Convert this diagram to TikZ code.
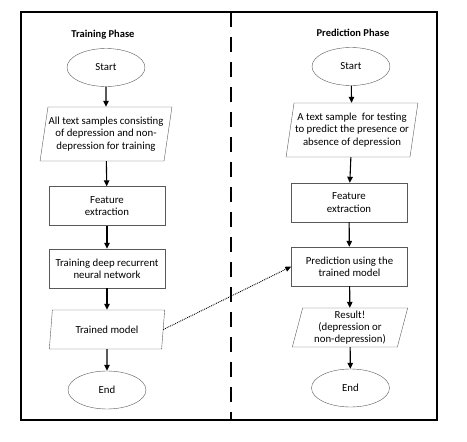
\documentclass[tikz,border=0pt]{standalone}
\usepackage{fontspec}
\setmainfont{Carlito}
\usetikzlibrary{positioning, arrows.meta, shapes.geometric}

\tikzset{
  startend/.style={ellipse, draw=gray!70!black, minimum width=78pt, minimum height=38pt, inner sep=0pt},
  procbox/.style={rectangle, draw=gray!70!black, minimum width=116pt, minimum height=39pt, align=center, inner sep=0pt},
  iobox/.style={trapezium, trapezium left angle=77, trapezium right angle=103, trapezium stretches=true, draw=gray!70!black, align=center, inner sep=0pt},
  flow/.style={-{Triangle[length=6pt,width=5.5pt]}, line width=1.1pt},
}

\begin{document}
\begin{tikzpicture}[x=1pt, y=-1pt, font=\fontsize{10.8}{12.3}\selectfont]
    \useasboundingbox (0,0) rectangle (467,442);

    % Frame and divider
    \draw[line width=1.5pt] (21,12) rectangle (437,420);
    \draw[line width=1.3pt, dash pattern=on 15pt off 10pt] (231,12) -- (231,420);

    % Training phase
    \node[font=\bfseries\fontsize{10.5}{12}\selectfont] (trainTitle) at (103,35) {Training Phase};
    \node[startend] (tStart) at (106,67.5) {Start};
    \node[iobox, minimum width=132pt, minimum height=54pt] (tData) at (106,134) {All text samples consisting\\of depression and non-\\depression for training};
    \node[procbox] (tFeat) at (107,206) {Feature\\extraction};
    \node[procbox] (tTrain) at (107,268.5) {Training deep recurrent\\neural network};
    \node[iobox, minimum width=116pt, minimum height=39pt] (tModel) at (107,329.5) {Trained model};
    \node[startend] (tEnd) at (107,390) {End};

    \draw[flow] (tStart) -- (tData);
    \draw[flow] (tData) -- (tFeat);
    \draw[flow] (tFeat) -- (tTrain);
    \draw[flow] (tTrain) -- (tModel);
    \draw[flow] (tModel) -- (tEnd);

    % Prediction phase
    \node[font=\bfseries\fontsize{10.5}{12}\selectfont] (predTitle) at (353,33) {Prediction Phase};
    \node[startend] (pStart) at (351,66.5) {Start};
    \node[iobox, minimum width=132pt, minimum height=54pt] (pData) at (352,130) {A text sample\ \ for testing\\to predict the presence or\\absence of depression};
    \node[procbox] (pFeat) at (349,202.5) {Feature\\extraction};
    \node[procbox] (pPred) at (349.5,266.5) {Prediction using the\\trained model};
    \node[iobox, minimum width=116pt, minimum height=39pt] (pResult) at (350,327.5) {Result!\\(depression or\\non-depression)};
    \node[startend] (pEnd) at (350.5,388) {End};

    \draw[flow] (pStart) -- (pData);
    \draw[flow] (pData) -- (pFeat);
    \draw[flow] (pFeat) -- (pPred);
    \draw[flow] (pPred) -- (pResult);
    \draw[flow] (pResult) -- (pEnd);

    % Model handed over
    \draw[densely dotted, line width=0.9pt, -{Triangle[length=6pt,width=5pt]}] (tModel.east) -- (pPred.west);

\end{tikzpicture}
\end{document}
